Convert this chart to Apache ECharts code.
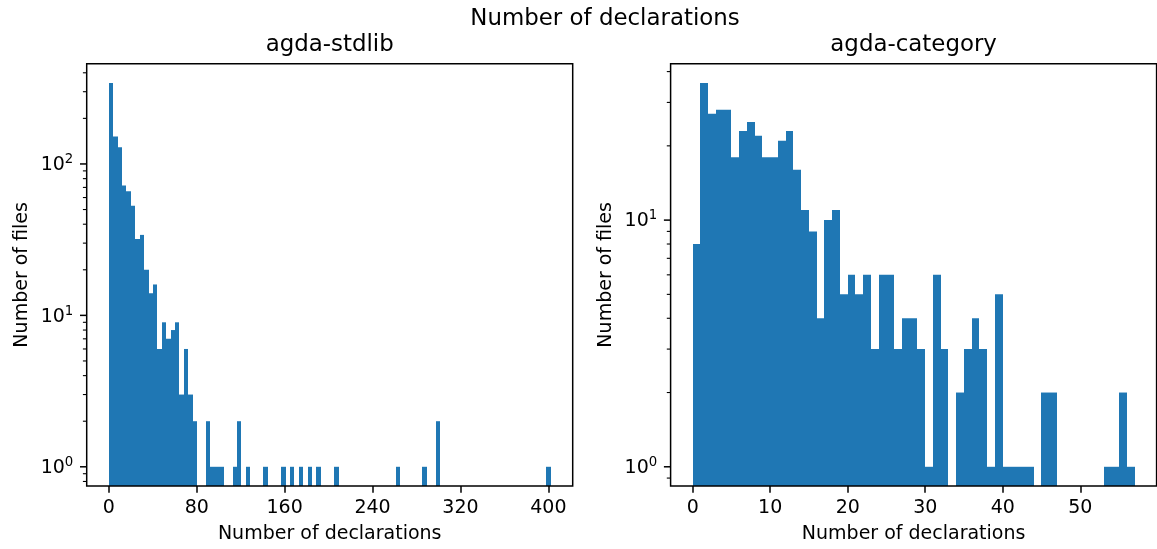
<!DOCTYPE html>
<html>
<head>
<meta charset="utf-8">
<script src="https://cdn.jsdelivr.net/npm/echarts@6/dist/echarts.min.js"></script>
<style>
  html, body { margin: 0; padding: 0; background: #fff; }
  #chart { width: 1157px; height: 549px; }
</style>
</head>
<body>
<div id="chart"></div>
<script>
// histogram of agda-stdlib: 100 bins starting at 0
var stdlibBinStart = 0;
var stdlibBinWidth = 4.02;
var stdlibCounts = [
  343, 152, 129, 72, 66, 53, 32, 34, 20, 14, 16, 6, 9, 7, 8, 9, 3, 6, 3, 2,
  0, 0, 2, 1, 1, 1, 0, 0, 1, 2,
  0, 1, 0, 0, 0, 1, 0, 0, 0, 1,
  0, 1, 0, 1, 0, 1, 0, 1, 0, 0,
  0, 1, 0, 0, 0, 0, 0, 0, 0, 0,
  0, 0, 0, 0, 0, 1, 0, 0, 0, 0,
  0, 1, 0, 0, 2, 0, 0, 0, 0, 0,
  0, 0, 0, 0, 0, 0, 0, 0, 0, 0,
  0, 0, 0, 0, 0, 0, 0, 0, 0, 1
];

// histogram of agda-category: 57 bins of width 1
var categoryBinStart = 0;
var categoryBinWidth = 1;
var categoryCounts = [
  8, 36, 27, 28, 28, 18, 23, 25, 22, 18, 18, 21, 23, 16, 11, 9, 4, 10, 11, 5,
  6, 5, 6, 3, 6, 6, 3, 4, 4, 3, 1, 6, 3, 0, 2, 3, 4, 3, 1, 5,
  1, 1, 1, 1, 0, 2, 2, 0, 0, 0, 0, 0, 0, 1, 1, 2, 1
];

var stdlibXTicks = [0, 80, 160, 240, 320, 400];
var categoryXTicks = [0, 10, 20, 30, 40, 50];
var stdlibYMajor = [1, 10, 100];
var stdlibYMinor = [0.8, 0.9, 2, 3, 4, 5, 6, 7, 8, 9, 20, 30, 40, 50, 60, 70, 80, 90, 200, 300, 400];
var categoryYMajor = [1, 10];
var categoryYMinor = [0.9, 2, 3, 4, 5, 6, 7, 8, 9, 20, 30, 40];

var FONT = 'DejaVu Sans';
var BLUE = '#1f77b4';

function binData(start, width, counts) {
  var out = [];
  counts.forEach(function (c, i) {
    if (c > 0) out.push([start + i * width, c, start + (i + 1) * width]);
  });
  return out;
}

function renderBar(params, api) {
  var p0 = api.coord([api.value(0), api.value(1)]);
  var p1 = api.coord([api.value(2), api.value(1)]);
  var bottom = params.coordSys.y + params.coordSys.height;
  // snap the sides to whole pixels so neighbouring bins join without seams
  var x0 = Math.round(p0[0]), x1 = Math.round(p1[0]);
  return {
    type: 'rect',
    shape: { x: x0, y: p0[1], width: x1 - x0, height: bottom - p0[1] },
    style: { fill: BLUE }
  };
}

// y ticks on the left spine (major + minor), drawn from the log axis
function renderTick(params, api) {
  var y = api.coord([0, api.value(1)])[1];
  var x = params.coordSys.x;
  var major = api.value(2) === 1;
  return {
    type: 'line',
    shape: { x1: x - (major ? 6.7 : 3.8), y1: y, x2: x, y2: y },
    style: { stroke: '#000', lineWidth: major ? 1.5 : 1.1 }
  };
}

function tickData(major, minor) {
  return major.map(function (v) { return [0, v, 1]; })
    .concat(minor.map(function (v) { return [0, v, 0]; }));
}

function logLabel(v) {
  var e = Math.log10(v);
  if (Math.abs(e - Math.round(e)) > 1e-6) return '';
  return '{b|10}{s|' + Math.round(e) + '}';
}

function xAxisOpt(idx, min, max, ticks) {
  return {
    type: 'value', gridIndex: idx, min: min, max: max,
    name: 'Number of declarations', nameLocation: 'middle', nameGap: 39,
    nameTextStyle: { fontFamily: FONT, fontSize: 19, color: '#000' },
    axisLine: { show: false },
    splitLine: { show: false },
    axisTick: { show: true, length: 6.7, customValues: ticks, lineStyle: { color: '#000', width: 1.5 } },
    axisLabel: { customValues: ticks, margin: 12.4, fontFamily: FONT, fontSize: 19, color: '#000' }
  };
}

function yAxisOpt(idx, min, max) {
  return {
    type: 'log', logBase: 10, gridIndex: idx, min: min, max: max,
    name: 'Number of files', nameLocation: 'middle', nameRotate: 90, nameGap: 55,
    nameTextStyle: { fontFamily: FONT, fontSize: 19, color: '#000' },
    axisLine: { show: false },
    splitLine: { show: false },
    minorTick: { show: false },
    axisTick: { show: false },
    axisLabel: {
      interval: 0, margin: 13.4, formatter: logLabel,
      rich: {
        b: { fontFamily: FONT, fontSize: 19, lineHeight: 21.6, verticalAlign: 'bottom', color: '#000' },
        s: { fontFamily: FONT, fontSize: 13.3, lineHeight: 13.3, verticalAlign: 'top', color: '#000' }
      }
    }
  };
}

var chart = echarts.init(document.getElementById('chart'), null, { renderer: 'canvas' });

chart.setOption({
  animation: false,
  backgroundColor: '#fff',
  graphic: [
    { type: 'text', x: 605, y: 19, style: { text: 'Number of declarations', fontFamily: FONT, fontSize: 22.9, fill: '#000', align: 'center', verticalAlign: 'middle' } },
    { type: 'text', x: 329.7, y: 45.5, style: { text: 'agda-stdlib', fontFamily: FONT, fontSize: 22.9, fill: '#000', align: 'center', verticalAlign: 'middle' } },
    { type: 'text', x: 913.6, y: 45.5, style: { text: 'agda-category', fontFamily: FONT, fontSize: 22.9, fill: '#000', align: 'center', verticalAlign: 'middle' } }
  ],
  grid: [
    { left: 86.7, top: 63.7, width: 486, height: 425.3, show: true, z: 5, backgroundColor: 'transparent', borderColor: '#000', borderWidth: 1.5 },
    { left: 670.6, top: 63.7, width: 486, height: 425.3, show: true, z: 5, backgroundColor: 'transparent', borderColor: '#000', borderWidth: 1.5 }
  ],
  xAxis: [
    xAxisOpt(0, -20.1, 422.1, stdlibXTicks),
    xAxisOpt(1, -2.85, 59.85, categoryXTicks)
  ],
  yAxis: [
    yAxisOpt(0, 0.7467, 459.3),
    yAxisOpt(1, 0.8358, 43.06)
  ],
  series: [
    { type: 'custom', xAxisIndex: 0, yAxisIndex: 0, renderItem: renderBar, encode: { x: [0, 2], y: 1 },
      data: binData(stdlibBinStart, stdlibBinWidth, stdlibCounts) },
    { type: 'custom', xAxisIndex: 1, yAxisIndex: 1, renderItem: renderBar, encode: { x: [0, 2], y: 1 },
      data: binData(categoryBinStart, categoryBinWidth, categoryCounts) },
    { type: 'custom', xAxisIndex: 0, yAxisIndex: 0, renderItem: renderTick, encode: { x: 0, y: 1 }, clip: false,
      data: tickData(stdlibYMajor, stdlibYMinor) },
    { type: 'custom', xAxisIndex: 1, yAxisIndex: 1, renderItem: renderTick, encode: { x: 0, y: 1 }, clip: false,
      data: tickData(categoryYMajor, categoryYMinor) }
  ]
});
</script>
</body>
</html>
